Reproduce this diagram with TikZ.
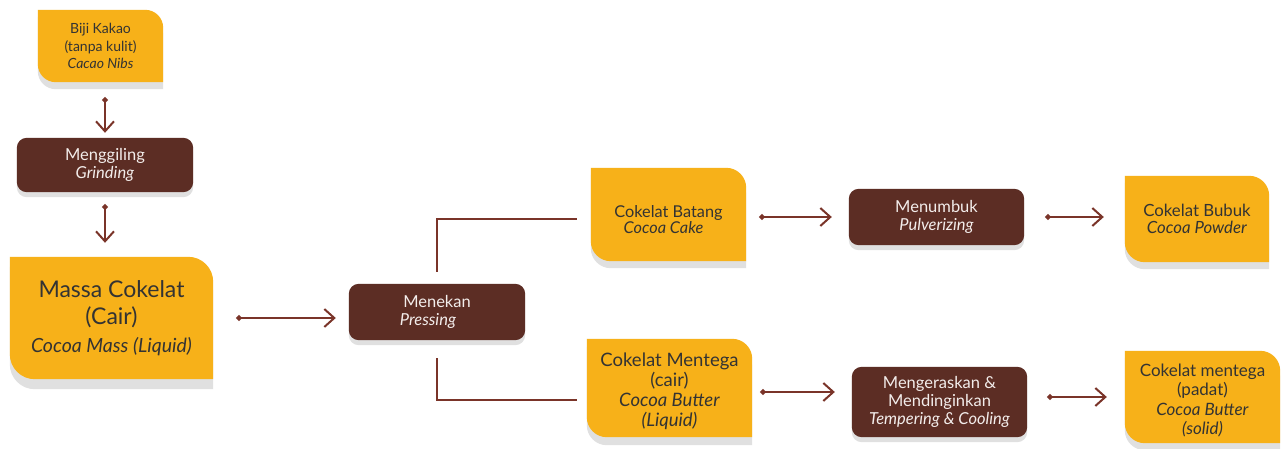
\documentclass[tikz,border=0pt]{standalone}
\usepackage{fontspec}
\setmainfont{Lato}
\usetikzlibrary{arrows.meta,backgrounds}
\definecolor{cyellow}{HTML}{F7B119}
\definecolor{cbrown}{HTML}{5C2D24}
\definecolor{clink}{HTML}{7A3429}
\definecolor{cshadow}{HTML}{E0E0E0}
\definecolor{ydark}{HTML}{333333}
\definecolor{blight}{HTML}{F3EDEB}
\newcommand\yshape[3]{% name, radius, shadow offset
  \fill[cshadow] ([yshift=-#3]#1.north west) -- ([xshift=-#2,yshift=-#3]#1.north east)
    arc[start angle=90,end angle=0,radius=#2] -- ([yshift=-#3]#1.south east)
    -- ([xshift=#2,yshift=-#3]#1.south west) arc[start angle=270,end angle=180,radius=#2] -- cycle;
  \fill[cyellow] (#1.north west) -- ([xshift=-#2]#1.north east)
    arc[start angle=90,end angle=0,radius=#2] -- (#1.south east)
    -- ([xshift=#2]#1.south west) arc[start angle=270,end angle=180,radius=#2] -- cycle;
}
\newcommand\bshape[1]{%
  \fill[cshadow,rounded corners=10] ([yshift=-5]#1.south west) rectangle ([yshift=-5]#1.north east);
  \fill[cbrown,rounded corners=10] (#1.south west) rectangle (#1.north east);
}
\tikzset{
  ynode/.style={inner sep=0, align=center, text=ydark},
  bnode/.style={inner sep=0, align=center, text=blight},
  conn/.style={draw=clink, line width=2pt, {Circle[length=5.5pt]}-{Straight Barb[length=10pt,width=18pt]}},
  plainline/.style={draw=clink, line width=2pt}
}
\begin{document}
\begin{tikzpicture}[x=1pt,y=1pt]
\useasboundingbox (0,0) rectangle (1283,448);
% nodes
\node[ynode, minimum width=125, minimum height=72, font={\fontsize{14}{17.5}\selectfont}] (biji) at (100.5,402)
  {Biji Kakao\\(tanpa kulit)\\\textit{Cacao Nibs}};
\node[bnode, minimum width=176, minimum height=54, font={\fontsize{16.5}{17.5}\selectfont}] (grind) at (105,283)
  {Menggiling\\\textit{Grinding}};
\node[ynode, minimum width=203, minimum height=122, font={\fontsize{23}{27.5}\selectfont}] (massa) at (111.5,130)
  {Massa Cokelat\\(Cair)\\{\fontsize{19.5}{27.5}\selectfont\itshape Cocoa Mass (Liquid)}};
\node[bnode, minimum width=176, minimum height=56, font={\fontsize{16.5}{18}\selectfont}] (press) at (437,136)
  {Menekan\\\textit{Pressing}\hspace*{18pt}};
\node[ynode, minimum width=155, minimum height=93, font={\fontsize{16.3}{13.5}\selectfont}] (batang) at (668.5,233.5)
  {\rule{0pt}{23pt}Cokelat Batang\\\textit{Cocoa Cake}\hspace*{10pt}};
\node[bnode, minimum width=175, minimum height=56, font={\fontsize{16.5}{18}\selectfont}] (tumbuk) at (936.5,231)
  {Menumbuk\\\textit{Pulverizing}};
\node[ynode, minimum width=144, minimum height=86, font={\fontsize{16.8}{16.5}\selectfont}] (bubuk) at (1197,229)
  {Cokelat Bubuk\\\textit{Cocoa Powder}};
\node[ynode, minimum width=165, minimum height=98, font={\fontsize{18.5}{20}\selectfont}] (mentega) at (669.5,60)
  {\rule{0pt}{20pt}Cokelat Mentega\\(cair)\\\textit{Cocoa Butter}\\\textit{(Liquid)}};
\node[bnode, minimum width=175, minimum height=70, font={\fontsize{16.5}{18}\selectfont}] (keras) at (939.5,46)
  {Mengeraskan \&\\Mendinginkan\\\textit{Tempering \& Cooling}};
\node[ynode, minimum width=155, minimum height=92, font={\fontsize{17}{19.5}\selectfont}] (padat) at (1202.5,51)
  {\rule{0pt}{19pt}Cokelat mentega\\(padat)\\\textit{Cocoa Butter}\\\textit{(solid)}};
% shapes
\begin{scope}[on background layer]
  \fill[white] (0,0) rectangle (1283,448);
  \yshape{biji}{18}{7}
  \yshape{massa}{25}{10}
  \yshape{batang}{20}{7}
  \yshape{bubuk}{20}{7}
  \yshape{mentega}{20}{8}
  \yshape{padat}{20}{7}
  \bshape{grind}
  \bshape{press}
  \bshape{tumbuk}
  \bshape{keras}
\end{scope}
% connectors
\draw[conn, shorten <=15pt, shorten >=5pt] (biji.south -| grind.north) -- (grind.north);
\draw[conn, shorten <=12pt, shorten >=14pt] (grind.south) -- (grind.south |- massa.north);
\draw[conn, shorten <=23pt, shorten >=13pt] (massa.east) -- (massa.east -| press.west);
\draw[plainline, shorten <=12pt, shorten >=14pt] (press.north) |- ([yshift=-4]batang.west);
\draw[plainline, shorten <=18pt, shorten >=10pt] (press.south) |- ([yshift=-12]mentega.west);
\draw[conn, shorten <=13pt, shorten >=17pt] (tumbuk.west -| batang.east) -- (tumbuk.west);
\draw[conn, shorten <=21pt, shorten >=21pt] (tumbuk.east) -- (tumbuk.east -| bubuk.west);
\draw[conn, shorten <=8pt, shorten >=17pt] ([yshift=-4]mentega.east) -- ([yshift=-4]mentega.east -| keras.west);
\draw[conn, shorten <=20pt, shorten >=18pt] (padat.west -| keras.east) -- (padat.west);
\end{tikzpicture}
\end{document}
